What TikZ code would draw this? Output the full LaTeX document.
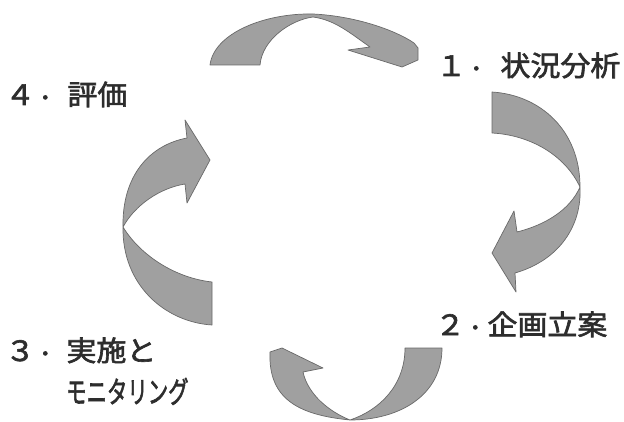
\documentclass[tikz,border=0pt]{standalone}
\usepackage{fontspec}
\newfontfamily\jpfont{Noto Sans CJK JP}[FakeStretch=1.07,AutoFakeBold=2.2]
\newfontfamily\jpkana{Noto Sans CJK JP}[AutoFakeBold=2.2]
\definecolor{arrfill}{RGB}{160,160,160}
\definecolor{arredge}{RGB}{105,105,105}
\definecolor{txt}{RGB}{45,45,45}
\newcommand{\middot}{\hspace{6pt}\raisebox{6pt}{.}}
\tikzset{
  arr/.style={fill=arrfill, draw=arredge, line width=0.7pt, line join=round},
  lbl/.style={inner sep=0pt, anchor=base west, text=txt, font=\jpfont\bfseries\fontsize{28}{30}\selectfont},
  kana/.style={inner sep=0pt, anchor=base west, text=txt, font=\jpkana\bfseries\fontsize{30}{32}\selectfont}
}
\begin{document}
\begin{tikzpicture}[x=1pt,y=-1pt]
\fill[white] (0,0) rectangle (624,422);
\useasboundingbox (0,0) rectangle (624,422);

% top arrow (evaluation -> analysis)
\path[arr] (210,65) .. controls (214,33) and (265,13) .. (313,14)
  .. controls (355,16) and (395,30) .. (414,43)
  -- (418,48) -- (418,60) -- (402,67) -- (348,50) -- (370,47)
  .. controls (350,33) and (335,20) .. (313,17)
  .. controls (290,20) and (262,40) .. (260,65) -- cycle;

% right arrow (analysis -> planning)
\path[arr] (492,92) .. controls (540,95) and (580,130) .. (580,187)
  .. controls (582,225) and (560,260) .. (515,273)
  -- (516,292) -- (492,253) -- (514,211) -- (517,232)
  .. controls (545,225) and (570,210) .. (580,187)
  .. controls (565,155) and (530,135) .. (492,133) -- cycle;

% bottom arrow (planning -> implementation)
\path[arr] (442,348) .. controls (442,395) and (400,420) .. (350,420)
  .. controls (300,415) and (268,400) .. (270,352)
  -- (282,348) -- (323,368) -- (303,372)
  .. controls (308,395) and (330,412) .. (350,420)
  .. controls (380,410) and (405,385) .. (405,348) -- cycle;

% left arrow (implementation -> evaluation)
\path[arr] (212,325) .. controls (165,322) and (122,285) .. (123,227)
  .. controls (122,175) and (150,145) .. (187,138)
  -- (185,120) -- (210,160) -- (187,203) -- (185,184)
  .. controls (160,188) and (135,205) .. (123,227)
  .. controls (140,255) and (175,278) .. (212,282) -- cycle;

% labels
\node[lbl] (analysis) at (436,76) {１\middot\hspace{20pt}状況分析};
\node[lbl] (planning) at (435,335) {２\middot\hspace{8pt}企画立案};
\node[lbl] (implement) at (5,361) {３\middot\hspace{17pt}実施と};
\node[kana] (monitor) at (66,403) {\scalebox{0.68}[1]{モニタリング}};
\node[lbl] (evaluation) at (5,105) {４\middot\hspace{18pt}評価};
\end{tikzpicture}
\end{document}
